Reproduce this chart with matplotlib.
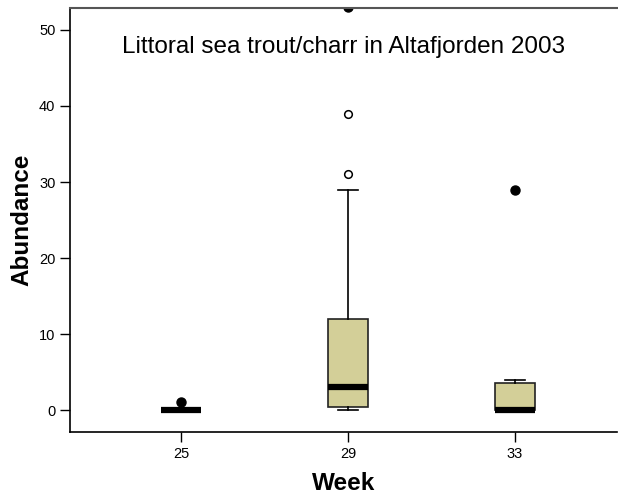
#!/usr/bin/env python3
# Boxplot of littoral sea trout/charr abundance per week, Altafjorden 2003
import matplotlib
matplotlib.use("Agg")
import matplotlib.pyplot as plt

plt.rcParams["font.family"] = ["Liberation Sans", "DejaVu Sans"]

weeks = ["25", "29", "33"]
whisker_low = [0, 0, 0]
q1 = [0, 0.4, 0]
median = [0, 3, 0]
q3 = [0, 12, 3.5]
whisker_high = [0, 29, 4]
outliers = [[], [31, 39], []]        # open circles
extremes = [[1], [53], [29]]         # filled circles

stats = []
for i, w in enumerate(weeks):
    stats.append(dict(label=w, whislo=whisker_low[i], q1=q1[i], med=median[i],
                      q3=q3[i], whishi=whisker_high[i], fliers=[]))

fig = plt.figure(figsize=(6.18, 4.95), dpi=100)
ax = fig.add_axes([0.1133, 0.127, 0.885, 0.857])

pos = list(range(len(weeks)))
ax.bxp(stats, positions=pos, widths=0.24, patch_artist=True, showfliers=False,
       boxprops=dict(facecolor="#d3cf98", edgecolor="#222222", linewidth=1.2),
       medianprops=dict(color="black", linewidth=4.5, solid_capstyle="butt"),
       whiskerprops=dict(color="black", linewidth=1.2),
       capprops=dict(color="black", linewidth=1.2),
       capwidths=0.12)

for i in pos:
    if outliers[i]:
        ax.plot([i] * len(outliers[i]), outliers[i], "o", mfc="white", mec="black",
                ms=5.5, mew=1.1)
    if extremes[i]:
        ax.plot([i] * len(extremes[i]), extremes[i], "o", color="black", ms=6.5)

ax.set_xlim(-0.665, 2.61)
ax.set_ylim(-2.9, 52.9)
ax.set_yticks([0, 10, 20, 30, 40, 50])
ax.set_xticks(pos)
ax.set_xticklabels(weeks)
ax.tick_params(axis="both", direction="out", length=7, width=1, labelsize=10.5, colors="black")

ax.spines["right"].set_visible(False)
ax.spines["top"].set_color("#555555")
ax.spines["top"].set_linewidth(1.5)
for s in ("left", "bottom"):
    ax.spines[s].set_linewidth(1.2)

ax.text(0.5, 0.908, "Littoral sea trout/charr in Altafjorden 2003", transform=ax.transAxes,
        ha="center", va="center", fontsize=17.5)
ax.set_xlabel("Week", fontsize=17.5, fontweight="bold", labelpad=8)
ax.set_ylabel("Abundance", fontsize=17.5, fontweight="bold", labelpad=4)

fig.savefig("out.png", dpi=100)
